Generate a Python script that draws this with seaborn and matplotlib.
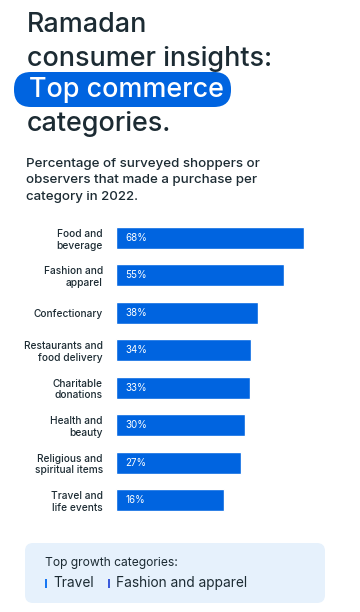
import numpy as np
import pandas as pd
import matplotlib.pyplot as plt
import seaborn as sns
from matplotlib.patches import FancyBboxPatch, Rectangle

categories = ["Food and\nbeverage", "Fashion and\napparel", "Confectionary",
              "Restaurants and\nfood delivery", "Charitable\ndonations",
              "Health and\nbeauty", "Religious and\nspiritual items",
              "Travel and\nlife events"]
values = [68, 55, 38, 34, 33, 30, 27, 16]
growth = ["Travel", "Fashion and apparel"]

BLUE = "#0064E0"
DARK = "#1C2B33"
BASE = -54  # bars in the original start from a non-zero baseline

sns.set_theme(style="white")
plt.rcParams['font.family'] = ['Inter', 'DejaVu Sans']

df = pd.DataFrame({"category": categories, "pct": values})
df["span"] = df["pct"] - BASE  # bar runs from BASE up to the value

fig = plt.figure(figsize=(3.6, 6.12), dpi=100)

# background layer in pixel coords for title / box
bg = fig.add_axes([0, 0, 1, 1])
bg.set_xlim(0, 360)
bg.set_ylim(612, 0)
bg.axis("off")

tkw = dict(fontsize=19.4, va="baseline", fontweight="medium")
bg.text(27, 32, "Ramadan", color=DARK, **tkw)
bg.text(27, 66, "consumer insights:", color=DARK, **tkw)
bg.add_patch(FancyBboxPatch((14, 72), 217, 35, boxstyle="round,pad=0,rounding_size=17",
                            fc=BLUE, ec="none"))
bg.text(29, 97, "Top commerce", color="white", **tkw)
bg.text(27, 131, "categories.", color=DARK, **tkw)

subtitle = ["Percentage of surveyed shoppers or",
            "observers that made a purchase per",
            "category in 2022."]
for i, line in enumerate(subtitle):
    bg.text(26, 167 + i * 16.5, line, fontsize=9.6, color=DARK, va="baseline",
            fontweight="medium")

# bottom box
bg.add_patch(FancyBboxPatch((33, 551), 284, 44, boxstyle="round,pad=8",
                            fc="#E6F1FC", ec="none"))
bg.text(45, 563, "Top growth categories:", fontsize=8.7, color=DARK, va="center")
bg.add_patch(Rectangle((45, 578.5), 2.3, 9, fc="#1877F2", ec="none"))
bg.text(53.5, 583, growth[0], fontsize=9.9, color=DARK, va="center")
bg.add_patch(Rectangle((108, 578.5), 2.3, 9, fc="#3B5BDB", ec="none"))
bg.text(116.5, 583, growth[1], fontsize=9.9, color=DARK, va="center")

# bar chart
ax = fig.add_axes([116 / 360, 1 - 518.7 / 612, 237 / 360, 299.4 / 612])
sns.barplot(data=df, x="span", y="category", color=BLUE, saturation=1,
            width=0.59, left=BASE, ax=ax)
ax.set_xlim(BASE, 100)
ax.set_xlabel("")
ax.set_ylabel("")
ax.set_xticks([])
sns.despine(ax=ax, left=True, bottom=True)
ax.tick_params(axis="y", length=0, pad=9.5, labelsize=7.3, labelcolor=DARK)
for lab in ax.get_yticklabels():
    lab.set_linespacing(1.2)
    lab.set_fontweight("medium")

for i, v in enumerate(values):
    ax.text(9 / 237, i, f"{v}%", transform=ax.get_yaxis_transform(),
            color="white", fontsize=7, va="center", ha="left")

fig.savefig("out.png", dpi=100)
